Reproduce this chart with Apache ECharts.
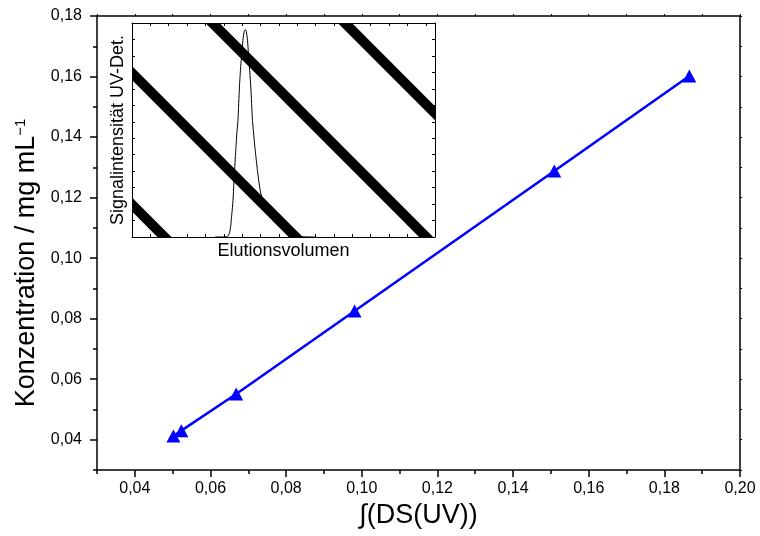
<!DOCTYPE html>
<html>
<head>
<meta charset="utf-8">
<script src="https://cdn.jsdelivr.net/npm/echarts@6/dist/echarts.min.js"></script>
<style>
  html, body { margin: 0; padding: 0; background: #fff; }
  #chart { width: 760px; height: 536px; }
</style>
</head>
<body>
<div id="chart"></div>
<script>
// Calibration: integrated UV detector signal vs. concentration
const dsUV = [0.0502, 0.0523, 0.0668, 0.0981, 0.1509, 0.1866];
const concentration = [0.0412, 0.0430, 0.0551, 0.0825, 0.1288, 0.1602];

// Labelled major ticks and unlabelled minor ticks of the main axes
const xMajorTicks = [0.04, 0.06, 0.08, 0.10, 0.12, 0.14, 0.16, 0.18, 0.20];
const xMinorTicks = [0.03, 0.05, 0.07, 0.09, 0.11, 0.13, 0.15, 0.17, 0.19];
const yMajorTicks = [0.04, 0.06, 0.08, 0.10, 0.12, 0.14, 0.16, 0.18];
const yMinorTicks = [0.03, 0.05, 0.07, 0.09, 0.11, 0.13, 0.15, 0.17];

// Inset: elution peak of the UV detector (arbitrary units)
const peakVolume = [4.53, 5.13, 5.24, 5.32, 5.38, 5.43, 5.50, 5.57, 5.65, 5.71, 5.77, 5.85,
  5.92, 5.98, 6.04, 6.11, 6.16, 6.22, 6.29, 6.34, 6.47, 6.56, 6.71, 6.83, 6.98, 7.16,
  7.43, 7.69, 7.96, 8.29, 8.61, 8.99, 9.43, 9.97];
const peakSignal = [0.00, 0.01, 0.07, 0.29, 0.71, 1.32, 2.23, 3.75, 5.27, 6.30, 7.09, 9.11,
  10.37, 11.14, 11.95, 12.50, 12.60, 12.50, 11.95, 11.14, 9.11, 7.09, 5.27, 4.05, 2.84, 2.03,
  1.42, 1.01, 0.71, 0.44, 0.22, 0.07, 0.01, 0.00];

// Inset hatching stripes, each [x1, y1, x2, y2] in inset units
const stripes = [
  [-1.09, 3.19, 2.86, -1.22],
  [-1.09, 11.18, 10.01, -1.22],
  [3.29, 14.22, 17.11, -1.22],
  [10.50, 14.22, 17.59, 6.30]
];

const FONT = 'Liberation Sans, Arial, Helvetica, sans-serif';
const BLACK = '#000';
const fmt = v => v.toFixed(2).replace('.', ',');

const chart = echarts.init(document.getElementById('chart'), null, { renderer: 'canvas' });

const mainX = { gridIndex: 0, type: 'value', min: 0.03, max: 0.20, splitLine: { show: false } };
const mainY = { gridIndex: 0, type: 'value', min: 0.03, max: 0.18, splitLine: { show: false } };
const insetX = { gridIndex: 1, type: 'value', min: 0, max: 16.5, interval: 1, splitLine: { show: false } };
const insetY = { gridIndex: 1, type: 'value', min: 0, max: 13, interval: 1, splitLine: { show: false } };

const axisLine = { show: true, onZero: false, lineStyle: { color: BLACK, width: 1.5 } };
const thinLine = { show: true, onZero: false, lineStyle: { color: BLACK, width: 1 } };
const noLine = { show: false, onZero: false };
const insetTick = { show: true, inside: true, length: 3, lineStyle: { color: BLACK, width: 1 } };

chart.setOption({
  animation: false,
  backgroundColor: '#fff',
  textStyle: { fontFamily: FONT },
  grid: [
    { left: 97, top: 16, width: 643, height: 454 },
    { left: 132, top: 23, width: 303, height: 214 }
  ],
  xAxis: [
    Object.assign({}, mainX, {
      position: 'bottom',
      axisLine: axisLine,
      axisTick: { show: true, customValues: xMajorTicks, length: 7, lineStyle: { color: BLACK, width: 1.5 } },
      axisLabel: { customValues: xMajorTicks, formatter: fmt, fontSize: 16, color: BLACK, margin: 11, fontFamily: FONT },
      name: '\u222B(DS(UV))',
      nameLocation: 'middle',
      nameGap: 30,
      nameTextStyle: { fontSize: 27, color: BLACK, fontFamily: FONT }
    }),
    Object.assign({}, mainX, {
      position: 'bottom',
      axisLine: noLine,
      axisTick: { show: true, customValues: xMinorTicks, length: 4, lineStyle: { color: BLACK, width: 1.5 } },
      axisLabel: { show: false }
    }),
    Object.assign({}, mainX, {
      position: 'top',
      axisLine: axisLine,
      axisTick: { show: true, customValues: xMajorTicks.concat(xMinorTicks), length: 2, lineStyle: { color: BLACK, width: 1 } },
      axisLabel: { show: false }
    }),
    Object.assign({}, insetX, {
      position: 'bottom',
      axisLine: thinLine,
      axisTick: insetTick,
      axisLabel: { show: false },
      name: 'Elutionsvolumen',
      nameLocation: 'middle',
      nameGap: 5,
      nameTextStyle: { fontSize: 18, color: BLACK, fontFamily: FONT, verticalAlign: 'top' }
    }),
    Object.assign({}, insetX, {
      position: 'top',
      axisLine: thinLine,
      axisTick: insetTick,
      axisLabel: { show: false }
    })
  ],
  yAxis: [
    Object.assign({}, mainY, {
      position: 'left',
      axisLine: axisLine,
      axisTick: { show: true, customValues: yMajorTicks, length: 7, lineStyle: { color: BLACK, width: 1.5 } },
      axisLabel: { customValues: yMajorTicks, formatter: fmt, fontSize: 16, color: BLACK, margin: 15, fontFamily: FONT },
      name: 'Konzentration / mg mL{sup|\u22121}',
      nameLocation: 'middle',
      nameGap: 56,
      nameTextStyle: {
        fontSize: 27, color: BLACK, fontFamily: FONT,
        padding: [0, 40, 0, 0],
        rich: { sup: { fontSize: 15, color: BLACK, fontFamily: FONT, verticalAlign: 'top', lineHeight: 27 } }
      }
    }),
    Object.assign({}, mainY, {
      position: 'left',
      axisLine: noLine,
      axisTick: { show: true, customValues: yMinorTicks, length: 4, lineStyle: { color: BLACK, width: 1.5 } },
      axisLabel: { show: false }
    }),
    Object.assign({}, mainY, {
      position: 'right',
      axisLine: axisLine,
      axisTick: { show: true, customValues: yMajorTicks.concat(yMinorTicks), length: 2, lineStyle: { color: BLACK, width: 1 } },
      axisLabel: { show: false }
    }),
    Object.assign({}, insetY, {
      position: 'left',
      axisLine: thinLine,
      axisTick: insetTick,
      axisLabel: { show: false },
      name: 'Signalintensit\u00E4t UV-Det.',
      nameLocation: 'middle',
      nameGap: 5,
      nameTextStyle: { fontSize: 18, color: BLACK, fontFamily: FONT }
    }),
    Object.assign({}, insetY, {
      position: 'right',
      axisLine: thinLine,
      axisTick: insetTick,
      axisLabel: { show: false }
    })
  ],
  series: [
    {
      name: 'Kalibrierung',
      type: 'line',
      xAxisIndex: 0,
      yAxisIndex: 0,
      data: dsUV.map((x, i) => [x, concentration[i]]),
      symbol: 'triangle',
      symbolSize: [14, 13],
      showSymbol: true,
      itemStyle: { color: '#0000ff' },
      lineStyle: { color: '#0000ff', width: 2.5 },
      z: 5
    },
    {
      name: 'Peak',
      type: 'line',
      xAxisIndex: 3,
      yAxisIndex: 3,
      data: peakVolume.map((x, i) => [x, peakSignal[i]]),
      showSymbol: false,
      symbol: 'none',
      smooth: 0.2,
      lineStyle: { color: BLACK, width: 1 },
      z: 3
    },
    {
      name: 'Schraffur',
      type: 'custom',
      xAxisIndex: 3,
      yAxisIndex: 3,
      clip: true,
      encode: { x: [0, 2], y: [1, 3] },
      data: stripes,
      renderItem: function (params, api) {
        const p1 = api.coord([api.value(0), api.value(1)]);
        const p2 = api.coord([api.value(2), api.value(3)]);
        return {
          type: 'line',
          shape: { x1: p1[0], y1: p1[1], x2: p2[0], y2: p2[1] },
          style: { stroke: BLACK, lineWidth: 10, fill: null }
        };
      },
      z: 4
    }
  ]
});
</script>
</body>
</html>
